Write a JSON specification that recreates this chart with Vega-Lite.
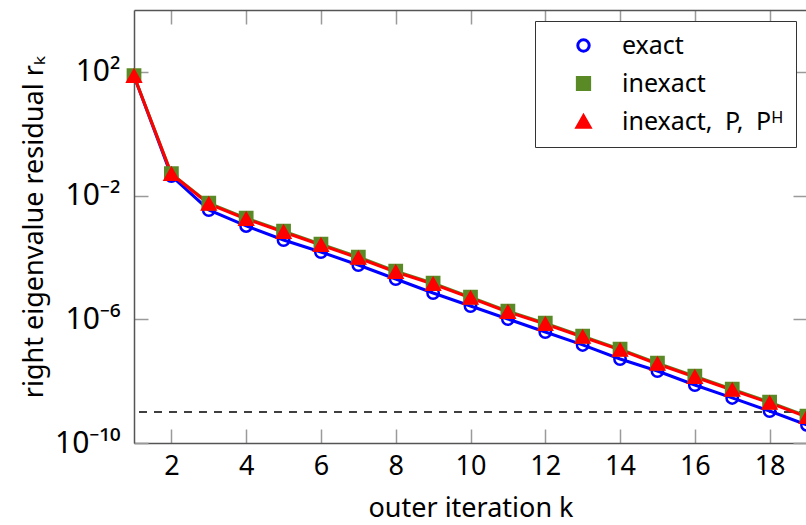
{
  "$schema": "https://vega.github.io/schema/vega-lite/v6.json",
  "width": 673,
  "height": 433,
  "autosize": "none",
  "padding": {"left": 134, "top": 10, "right": 0, "bottom": 82},
  "background": "white",
  "config": {
    "font": "Noto Sans, DejaVu Sans",
    "view": {"stroke": null},
    "axis": {"domainColor": "#555555", "domainWidth": 1.5, "tickColor": "#9a9a9a", "tickWidth": 1.5, "grid": false, "labelColor": "black", "titleColor": "black", "titleFontWeight": "normal"},
    "legend": {"orient": "top-right", "offset": 11, "padding": 12, "rowPadding": 12, "strokeColor": "#333333", "fillColor": "white", "labelFontSize": 25, "symbolStrokeWidth": 3, "symbolOffset": 24, "labelOffset": 26, "labelLimit": 400}
  },
  "datasets": {
    "res": [
      {"k": 1, "series": "exact", "r": 73.5},
      {"k": 2, "series": "exact", "r": 0.043},
      {"k": 3, "series": "exact", "r": 0.00342},
      {"k": 4, "series": "exact", "r": 0.00104},
      {"k": 5, "series": "exact", "r": 0.000366},
      {"k": 6, "series": "exact", "r": 0.00015},
      {"k": 7, "series": "exact", "r": 5.7e-5},
      {"k": 8, "series": "exact", "r": 2.01e-5},
      {"k": 9, "series": "exact", "r": 7.08e-6},
      {"k": 10, "series": "exact", "r": 2.69e-6},
      {"k": 11, "series": "exact", "r": 1.02e-6},
      {"k": 12, "series": "exact", "r": 3.88e-7},
      {"k": 13, "series": "exact", "r": 1.48e-7},
      {"k": 14, "series": "exact", "r": 5.2e-8},
      {"k": 15, "series": "exact", "r": 2.13e-8},
      {"k": 16, "series": "exact", "r": 7.5e-9},
      {"k": 17, "series": "exact", "r": 2.86e-9},
      {"k": 18, "series": "exact", "r": 1.08e-9},
      {"k": 19, "series": "exact", "r": 3.83e-10},
      {"k": 1, "series": "inexact", "r": 75},
      {"k": 2, "series": "inexact", "r": 0.051},
      {"k": 3, "series": "inexact", "r": 0.0057},
      {"k": 4, "series": "inexact", "r": 0.00186},
      {"k": 5, "series": "inexact", "r": 0.00071},
      {"k": 6, "series": "inexact", "r": 0.00027},
      {"k": 7, "series": "inexact", "r": 0.000103},
      {"k": 8, "series": "inexact", "r": 3.6e-5},
      {"k": 9, "series": "inexact", "r": 1.48e-5},
      {"k": 10, "series": "inexact", "r": 5.2e-6},
      {"k": 11, "series": "inexact", "r": 1.84e-6},
      {"k": 12, "series": "inexact", "r": 7.5e-7},
      {"k": 13, "series": "inexact", "r": 2.86e-7},
      {"k": 14, "series": "inexact", "r": 1.09e-7},
      {"k": 15, "series": "inexact", "r": 3.83e-8},
      {"k": 16, "series": "inexact", "r": 1.45e-8},
      {"k": 17, "series": "inexact", "r": 5.5e-9},
      {"k": 18, "series": "inexact", "r": 2.1e-9},
      {"k": 19, "series": "inexact", "r": 7.4e-10},
      {"k": 1, "series": "inexact, P, Pᴴ", "r": 73.5},
      {"k": 2, "series": "inexact, P, Pᴴ", "r": 0.0499},
      {"k": 3, "series": "inexact, P, Pᴴ", "r": 0.00535},
      {"k": 4, "series": "inexact, P, Pᴴ", "r": 0.00175},
      {"k": 5, "series": "inexact, P, Pᴴ", "r": 0.000665},
      {"k": 6, "series": "inexact, P, Pᴴ", "r": 0.000252},
      {"k": 7, "series": "inexact, P, Pᴴ", "r": 9.6e-5},
      {"k": 8, "series": "inexact, P, Pᴴ", "r": 3.38e-5},
      {"k": 9, "series": "inexact, P, Pᴴ", "r": 1.38e-5},
      {"k": 10, "series": "inexact, P, Pᴴ", "r": 4.89e-6},
      {"k": 11, "series": "inexact, P, Pᴴ", "r": 1.72e-6},
      {"k": 12, "series": "inexact, P, Pᴴ", "r": 7.05e-7},
      {"k": 13, "series": "inexact, P, Pᴴ", "r": 2.68e-7},
      {"k": 14, "series": "inexact, P, Pᴴ", "r": 1.02e-7},
      {"k": 15, "series": "inexact, P, Pᴴ", "r": 3.59e-8},
      {"k": 16, "series": "inexact, P, Pᴴ", "r": 1.36e-8},
      {"k": 17, "series": "inexact, P, Pᴴ", "r": 5.18e-9},
      {"k": 18, "series": "inexact, P, Pᴴ", "r": 1.97e-9},
      {"k": 19, "series": "inexact, P, Pᴴ", "r": 6.93e-10}
    ],
    "tol": [{"r": 1e-9}]
  },
  "resolve": {"axis": {"x": "independent", "y": "independent"}},
  "layer": [
    {
      "data": {"name": "tol"},
      "mark": {"type": "rule", "color": "black", "strokeWidth": 1.5, "strokeDash": [8, 7]},
      "encoding": {
        "y": {"field": "r", "type": "quantitative", "scale": {"type": "log", "domain": [1e-10, 10000]},
          "axis": {"orient": "left", "values": [1e-10, 1e-6, 0.01, 100], "labelExpr": "datum.value > 1 ? '10²' : datum.value > 0.001 ? '10⁻²' : datum.value > 1e-7 ? '10⁻⁶' : '10⁻¹⁰'", "labelFontSize": 30, "tickSize": -14, "labelPadding": 28, "title": "right eigenvalue residual rₖ", "titleFontSize": 27, "titlePadding": 6}}
      }
    },
    {
      "data": {"name": "res"},
      "mark": {"type": "line", "strokeWidth": 3},
      "encoding": {
        "x": {"field": "k", "type": "quantitative", "scale": {"domain": [1, 19], "nice": false},
          "axis": {"orient": "bottom", "values": [2, 4, 6, 8, 10, 12, 14, 16, 18], "labelFontSize": 27, "tickSize": -14, "labelPadding": 24, "title": "outer iteration k", "titleFontSize": 27, "titlePadding": 16}},
        "y": {"field": "r", "type": "quantitative", "axis": null},
        "stroke": {"field": "series", "type": "nominal", "title": null, "scale": {"domain": ["exact", "inexact", "inexact, P, Pᴴ"], "range": ["#0000ff", "#5a8a26", "#ff0000"]}, "legend": {"labelExpr": "datum.label == 'inexact, P, Pᴴ' ? 'inexact,\u2002P,\u2002Pᴴ' : datum.label"}}
      }
    },
    {
      "data": {"name": "res"},
      "mark": {"type": "point", "filled": false, "strokeWidth": 2.5, "opacity": 1},
      "encoding": {
        "x": {"field": "k", "type": "quantitative",
          "axis": {"orient": "top", "values": [2, 4, 6, 8, 10, 12, 14, 16, 18], "labels": false, "tickSize": -14, "title": null}},
        "y": {"field": "r", "type": "quantitative",
          "axis": {"orient": "right", "values": [1e-10, 1e-6, 0.01, 100], "labels": false, "tickSize": -14, "title": null}},
        "color": {"field": "series", "type": "nominal", "title": null, "scale": {"domain": ["exact", "inexact", "inexact, P, Pᴴ"], "range": ["#0000ff", "#5a8a26", "#ff0000"]}},
        "shape": {"field": "series", "type": "nominal", "title": null, "scale": {"domain": ["exact", "inexact", "inexact, P, Pᴴ"], "range": ["circle", "square", "triangle-up"]}},
        "fill": {"field": "series", "type": "nominal", "title": null, "scale": {"domain": ["exact", "inexact", "inexact, P, Pᴴ"], "range": ["transparent", "#5a8a26", "#ff0000"]}},
        "size": {"field": "series", "type": "nominal", "title": null, "scale": {"domain": ["exact", "inexact", "inexact, P, Pᴴ"], "range": [130, 170, 150]}}
      }
    }
  ]
}
